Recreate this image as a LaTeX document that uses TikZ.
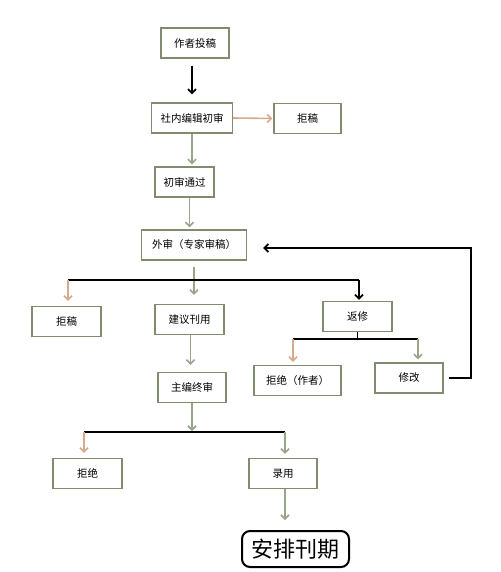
\documentclass[tikz,border=0pt]{standalone}
\usepackage{fontspec}
\newfontfamily\cjk{Noto Sans CJK SC}
\usetikzlibrary{arrows.meta}
\usetikzlibrary{calc}
\definecolor{boxgreen}{HTML}{7F8C70}
\definecolor{arrgreen}{HTML}{98A588}
\definecolor{arrorange}{HTML}{D6A88C}
\tikzset{>={Straight Barb[length=4pt,width=8pt]}}
\tikzset{
    procbox/.style={draw=boxgreen, line width=1.3pt, minimum height=30pt, inner sep=0pt, font=\cjk\fontsize{10.5}{12}\selectfont},
    garrow/.style={->, arrgreen, line width=1.6pt},
    oarrow/.style={->, arrorange, line width=1.6pt},
    barrow/.style={->, black, line width=1.8pt},
    bline/.style={black, line width=1.8pt}
}

\begin{document}
\begin{tikzpicture}[x=1pt,y=-1pt]
    \useasboundingbox (0,0) rectangle (500,572);
    \node[procbox, minimum width=68pt] (tougao) at (195,43) {作者投稿};
    \node[procbox, minimum width=81pt] (chushen) at (192,118) {社内编辑初审};
    \node[procbox, minimum width=67pt] (jugaoA) at (307.5,118.5) {拒稿};
    \node[procbox, minimum width=59pt] (tongguo) at (184.5,182) {初审通过};
    \node[procbox, minimum width=105pt] (waishen) at (194,245) {外审（专家审稿）};
    \node[procbox, minimum width=69pt] (jugaoB) at (66.5,321.5) {拒稿};
    \node[procbox, minimum width=69pt] (jianyi) at (189.5,319.5) {建议刊用};
    \node[procbox, minimum width=69pt] (fanxiu) at (357.5,316.5) {返修};
    \node[procbox, minimum width=87pt] (jujueA) at (297.5,380.5) {拒绝（作者）};
    \node[procbox, minimum width=68pt] (xiugai) at (409,378) {修改};
    \node[procbox, minimum width=68pt] (zhubian) at (192,387.5) {主编终审};
    \node[procbox, minimum width=69pt] (jujueB) at (87.5,473.5) {拒绝};
    \node[procbox, minimum width=68pt] (luyong) at (283,473.5) {录用};
    \node[draw=black, line width=2pt, rounded corners=8pt, minimum width=107pt, minimum height=36pt, inner sep=0pt,
          font=\cjk\fontsize{22}{24}\selectfont] (anpai) at (295.5,549) {安排刊期};

    \coordinate (brA) at (0,280);
    \coordinate (brB) at (0,339);
    \coordinate (brC) at (0,432);

    \draw[barrow, shorten <=7pt, shorten >=8pt] (tougao.south -| chushen.north) -- (chushen.north);
    \draw[oarrow, shorten >=1pt] (chushen.east) -- (jugaoA.west);
    \draw[garrow, shorten >=2pt] (chushen.south) -- (chushen.south |- tongguo.north);
    \draw[garrow, shorten >=2pt] ([xshift=5pt]tongguo.south) -- ([xshift=5pt]tongguo.south |- waishen.north);
    \draw[garrow, shorten <=6pt, shorten >=9pt] (waishen.south) -- (waishen.south |- jianyi.north);

    \draw[bline] ([xshift=1.5pt]jugaoB.north |- brA) -- ([xshift=1.5pt]fanxiu.north |- brA);
    \draw[oarrow, shorten >=5pt] ([xshift=1.5pt]jugaoB.north |- brA) -- ([xshift=1.5pt]jugaoB.north);
    \draw[barrow, shorten >=1pt] ([xshift=1.5pt]fanxiu.north |- brA) -- ([xshift=1.5pt]fanxiu.north);

    \draw[bline, line width=1.4pt] (fanxiu.south) -- (fanxiu.south |- brB);
    \draw[bline, line width=1.4pt] ([xshift=-4.5pt]jujueA.north |- brB) -- ([xshift=9pt]xiugai.north |- brB);
    \draw[oarrow, shorten >=3pt] ([xshift=-4.5pt]jujueA.north |- brB) -- ([xshift=-4.5pt]jujueA.north);
    \draw[garrow, shorten >=3pt] ([xshift=9pt]xiugai.north |- brB) -- ([xshift=9pt]xiugai.north);

    \draw[barrow, line join=miter] ([xshift=5pt]xiugai.east) -- ++(22,0) |- ([xshift=16pt,yshift=-3pt]waishen.east);

    \draw[garrow, shorten >=7pt] ([xshift=1pt]jianyi.south) -- ([xshift=1pt]jianyi.south |- zhubian.north);

    \draw[garrow, shorten >=1pt] (zhubian.south) -- (zhubian.south |- brC);
    \draw[bline, line width=1.4pt] ([xshift=-3.5pt]jujueB.north |- brC) -- ([xshift=2pt]luyong.north |- brC);
    \draw[oarrow, shorten >=5pt] ([xshift=-3.5pt]jujueB.north |- brC) -- ([xshift=-3.5pt]jujueB.north);
    \draw[garrow, shorten >=4pt] ([xshift=2pt]luyong.north |- brC) -- ([xshift=2pt]luyong.north);

    \draw[garrow, shorten >=10pt] ([xshift=2pt]luyong.south) -- ([xshift=2pt]luyong.south |- anpai.north);
\end{tikzpicture}
\end{document}
